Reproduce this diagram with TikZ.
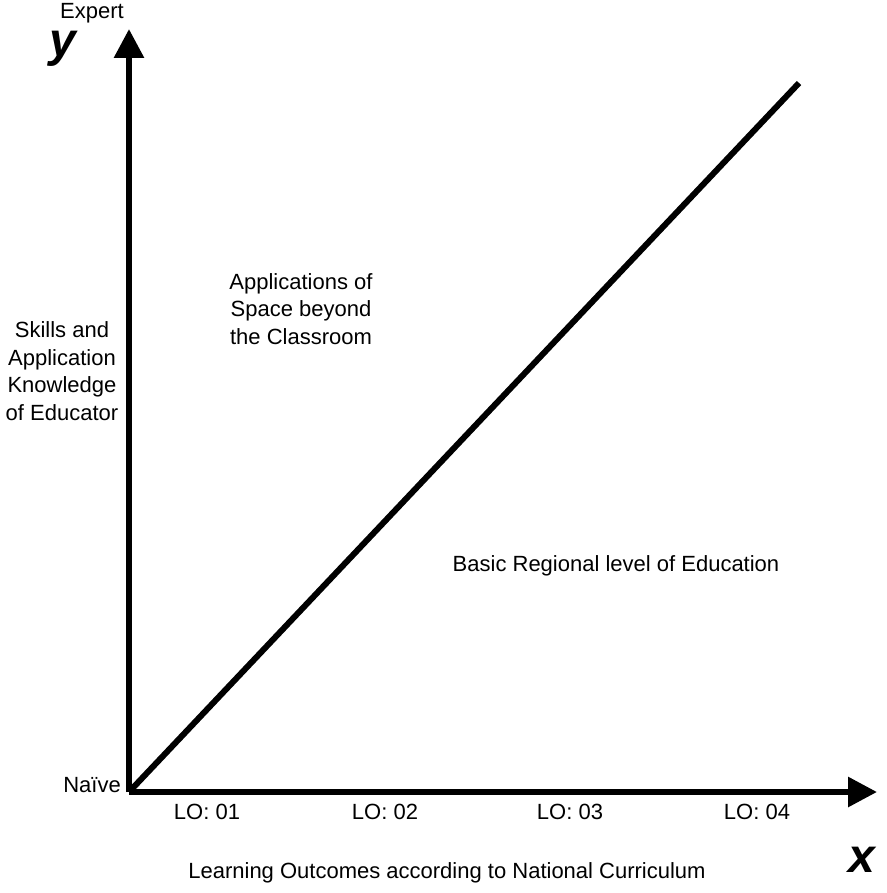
\documentclass[tikz,border=0pt]{standalone}
\usepackage{fontspec}
\setmainfont{Liberation Sans}
\usetikzlibrary{arrows.meta}
\begin{document}
\begin{tikzpicture}[x=1pt,y=-1pt,
  axis/.style={line width=6pt,-{Triangle[length=29pt,width=29pt]}},
  lbl/.style={font=\fontsize{22}{27.5}\selectfont,inner sep=0pt,align=center},
  big/.style={font=\fontsize{48}{48}\selectfont\bfseries\itshape,inner sep=0pt}]
\useasboundingbox (0,0) rectangle (886,893);
\coordinate (O) at (129,792);
\coordinate (ytip) at (129,29);
\coordinate (xtip) at (877,792);
\coordinate (dend) at (799,83);
\draw[axis] (O) -- (ytip);
\draw[axis] (O) -- (xtip);
\draw[line width=6pt] (O) -- (dend);
\node[lbl] (expert) at (92,13) {Expert};
\node[big,anchor=base] (ylab) at (63,57) {y};
\node[big,anchor=base] (xlab) at (862,872) {x};
\node[lbl,anchor=east] (naive) at (121,785) {Naïve};
\node[lbl] (skills) at (62,371) {Skills and\\Application\\Knowledge\\of Educator};
\node[lbl] (apps) at (301,309) {Applications of\\Space beyond\\the Classroom};
\node[lbl] (basic) at (616,566) {Basic Regional level of Education};
\node[lbl] (lo1) at (207,812) {LO: 01};
\node[lbl] (lo2) at (385,812) {LO: 02};
\node[lbl] (lo3) at (570,812) {LO: 03};
\node[lbl] (lo4) at (757,812) {LO: 04};
\node[lbl] (learn) at (447,873) {Learning Outcomes according to National Curriculum};
\end{tikzpicture}
\end{document}
